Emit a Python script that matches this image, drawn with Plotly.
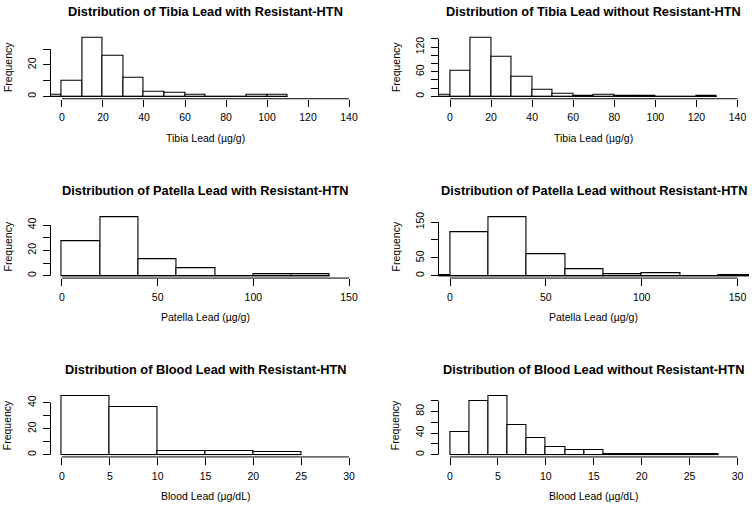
import plotly.graph_objects as go
import numpy as np

# ---------------- data ----------------
panel_titles = [
    "Distribution of Tibia Lead with Resistant-HTN",
    "Distribution of Tibia Lead without Resistant-HTN",
    "Distribution of Patella Lead with Resistant-HTN",
    "Distribution of Patella Lead without Resistant-HTN",
    "Distribution of Blood Lead with Resistant-HTN",
    "Distribution of Blood Lead without Resistant-HTN",
]
x_titles = [
    "Tibia Lead (µg/g)", "Tibia Lead (µg/g)",
    "Patella Lead (µg/g)", "Patella Lead (µg/g)",
    "Blood Lead (µg/dL)", "Blood Lead (µg/dL)",
]

tibia_with_breaks = [-10, 0, 10, 20, 30, 40, 50, 60, 70, 80, 90, 100, 110]
tibia_with_counts = [1, 10, 37, 26, 12, 3, 2, 1, 0, 0, 1, 1]

tibia_without_breaks = [-10, 0, 10, 20, 30, 40, 50, 60, 70, 80, 90, 100, 110, 120, 130]
tibia_without_counts = [4, 62, 142, 97, 48, 16, 6, 2, 4, 1, 1, 0, 0, 1]

patella_with_breaks = [0, 20, 40, 60, 80, 100, 120, 140]
patella_with_counts = [27, 46, 13, 6, 0, 1, 1]

patella_without_breaks = [-20, 0, 20, 40, 60, 80, 100, 120, 140, 160]
patella_without_counts = [2, 122, 163, 60, 19, 5, 6, 0, 2]

blood_with_breaks = [0, 5, 10, 15, 20, 25]
blood_with_counts = [45, 37, 3, 3, 2]

blood_without_breaks = [0, 2, 4, 6, 8, 10, 12, 14, 16, 18, 20, 22, 24, 26, 28]
blood_without_counts = [41, 100, 108, 54, 30, 15, 9, 9, 2, 2, 1, 1, 1, 1]

tibia_xticks = [0, 20, 40, 60, 80, 100, 120, 140]
patella_xticks = [0, 50, 100, 150]
blood_xticks = [0, 5, 10, 15, 20, 25, 30]

y1_ticks = [0, 10, 20, 30];            y1_labels = ["0", "", "20", ""]
y2_ticks = [0, 20, 40, 60, 80, 100, 120, 140]; y2_labels = ["0", "", "", "60", "", "", "120", ""]
y3_ticks = [0, 10, 20, 30, 40];        y3_labels = ["0", "", "20", "", "40"]
y4_ticks = [0, 50, 100, 150];          y4_labels = ["0", "50", "", "150"]
y5_ticks = [0, 10, 20, 30, 40];        y5_labels = ["0", "", "20", "", "40"]
y6_ticks = [0, 20, 40, 60, 80, 100];   y6_labels = ["0", "", "40", "", "80", ""]

panels = [
    (tibia_with_breaks, tibia_with_counts, tibia_xticks, y1_ticks, y1_labels),
    (tibia_without_breaks, tibia_without_counts, tibia_xticks, y2_ticks, y2_labels),
    (patella_with_breaks, patella_with_counts, patella_xticks, y3_ticks, y3_labels),
    (patella_without_breaks, patella_without_counts, patella_xticks, y4_ticks, y4_labels),
    (blood_with_breaks, blood_with_counts, blood_xticks, y5_ticks, y5_labels),
    (blood_without_breaks, blood_without_counts, blood_xticks, y6_ticks, y6_labels),
]

# ---------------- layout geometry ----------------
W, H = 752, 512
col_px = [(50.5, 360.5), (438.5, 749.0)]
row_bottom_px = [96.3, 276.7, 456.6]
plot_h = 63.3
FONT = "Liberation Sans, Arial, Helvetica, sans-serif"
INK = "#000000"
FS = 10.5
FS_MAIN = 12.8

fig = go.Figure()
layout = dict(
    width=W, height=H,
    margin=dict(l=0, r=0, t=0, b=0),
    paper_bgcolor="white", plot_bgcolor="white",
    showlegend=False,
    font=dict(family=FONT, size=FS, color=INK),
    bargap=0,
)
annotations = []
shapes = []

for i, (breaks, counts, xt, yt, yl) in enumerate(panels):
    r, c = divmod(i, 2)
    n = i + 1
    xa = "x" if n == 1 else f"x{n}"
    ya = "y" if n == 1 else f"y{n}"
    xkey = "xaxis" if n == 1 else f"xaxis{n}"
    ykey = "yaxis" if n == 1 else f"yaxis{n}"

    b = np.array(breaks, dtype=float)
    centers = (b[:-1] + b[1:]) / 2
    widths = np.diff(b)

    fig.add_trace(go.Bar(
        x=centers, y=counts, width=widths,
        marker=dict(color="white", line=dict(color=INK, width=1.1)),
        xaxis=xa, yaxis=ya, hoverinfo="skip",
    ))

    x0p, x1p = col_px[c]
    yb = row_bottom_px[r]
    yt_px = yb - plot_h
    xdom = [x0p / W, x1p / W]
    ydom = [1 - yb / H, 1 - yt_px / H]

    xlim = (min(xt), max(xt))
    xpad = 0.04 * (xlim[1] - xlim[0])
    ymax = max(counts)
    ypad = 0.04 * ymax

    layout[xkey] = dict(
        domain=xdom, anchor=ya, range=[xlim[0] - xpad, xlim[1] + xpad],
        tickmode="array", tickvals=xt, ticktext=[str(v) for v in xt],
        ticks="outside", ticklen=7, tickwidth=1, tickcolor=INK,
        showline=False, showgrid=False, zeroline=False,
        tickfont=dict(size=FS, color=INK, family=FONT),
        ticklabelstandoff=2,
    )
    layout[ykey] = dict(
        domain=ydom, anchor=xa, range=[-ypad, ymax + ypad],
        tickmode="array", tickvals=yt, ticktext=yl,
        ticks="outside", ticklen=7, tickwidth=1, tickcolor=INK,
        showline=False, showgrid=False, zeroline=False,
        tickangle=-90,
        tickfont=dict(size=FS, color=INK, family=FONT),
        ticklabelstandoff=2,
    )

    # R-style axis lines spanning only the tick range
    shapes.append(dict(type="line", xref=xa, yref=f"{ya} domain",
                       x0=min(xt), x1=max(xt), y0=0, y1=0,
                       line=dict(color=INK, width=1)))
    shapes.append(dict(type="line", xref=f"{xa} domain", yref=ya,
                       x0=0, x1=0, y0=min(yt), y1=max(yt),
                       line=dict(color=INK, width=1)))
    # baseline under empty bins (bar bottoms)
    shapes.append(dict(type="line", xref=xa, yref=ya,
                       x0=breaks[0], x1=breaks[-1], y0=0, y1=0,
                       line=dict(color=INK, width=1)))

    xc = (x0p + x1p) / 2 / W
    annotations.append(dict(
        text=f"<b>{panel_titles[i]}</b>", xref="paper", yref="paper",
        x=xc, y=1 - (yt_px - 24.5) / H, xanchor="center", yanchor="middle",
        showarrow=False, font=dict(size=FS_MAIN, color=INK, family=FONT)))
    annotations.append(dict(
        text=x_titles[i], xref="paper", yref="paper",
        x=xc, y=1 - (yb + 39.5) / H, xanchor="center", yanchor="middle",
        showarrow=False, font=dict(size=FS, color=INK, family=FONT)))
    annotations.append(dict(
        text="Frequency", xref="paper", yref="paper",
        x=(x0p - 42.7) / W, y=1 - (yb - plot_h / 2) / H,
        xanchor="center", yanchor="middle", textangle=-90,
        showarrow=False, font=dict(size=FS, color=INK, family=FONT)))

layout["annotations"] = annotations
layout["shapes"] = shapes
fig.update_layout(**layout)
fig.write_html("out.html", config={"displayModeBar": False},
               post_script="document.body.style.margin='0';")
